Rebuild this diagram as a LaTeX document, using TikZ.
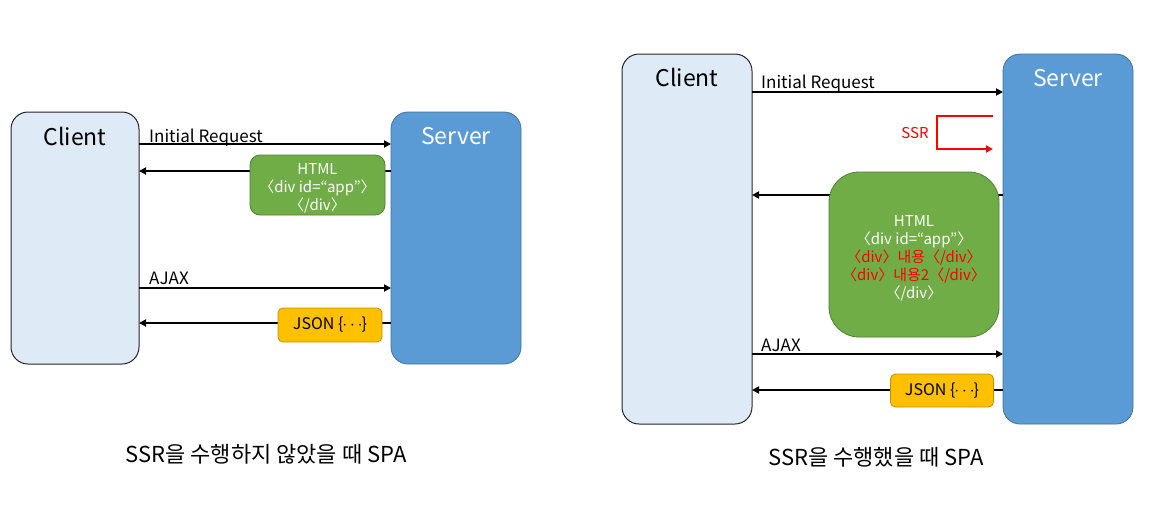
\documentclass[tikz,border=0pt]{standalone}
\usepackage{fontspec}
\setmainfont{Noto Sans CJK KR}
\usetikzlibrary{arrows.meta,positioning,calc}
\definecolor{clientfill}{HTML}{DEEBF7}
\definecolor{serverfill}{HTML}{5B9BD5}
\definecolor{serverline}{HTML}{41719C}
\definecolor{htmlfill}{HTML}{70AD47}
\definecolor{htmlline}{HTML}{507E32}
\definecolor{jsonfill}{HTML}{FFC000}
\definecolor{jsonline}{HTML}{BF9000}
\definecolor{ssrred}{HTML}{FF0000}
\tikzset{
  clientbox/.style={rectangle,rounded corners=17pt,draw=black!85,line width=1pt,fill=clientfill,inner sep=0pt,outer sep=0pt},
  serverbox/.style={rectangle,rounded corners=17pt,draw=serverline,line width=0.8pt,fill=serverfill,inner sep=0pt,outer sep=0pt},
  htmlbox/.style={rectangle,draw=htmlline,line width=0.8pt,fill=htmlfill,text=white,align=center,inner sep=0pt,font=\fontsize{15}{18}\selectfont},
  jsonbox/.style={rectangle,rounded corners=5pt,draw=jsonline,line width=0.8pt,fill=jsonfill,inner sep=0pt,font=\fontsize{16}{18}\selectfont},
  hosttext/.style={anchor=base,inner sep=0pt,font=\fontsize{23}{26}\selectfont},
  msgtext/.style={anchor=base west,inner sep=0pt,font=\fontsize{17}{20}\selectfont},
  caption/.style={inner sep=0pt,font=\fontsize{22}{24}\selectfont},
  arrow/.style={-{Triangle[length=7pt,width=7pt]},line width=2pt,black},
  ssrline/.style={-{Triangle[length=7pt,width=7pt]},line width=2pt,ssrred}
}
\newcommand{\jsondots}{\{\kern-1pt$\cdots$\kern-1pt\}}
\begin{document}
\begin{tikzpicture}[x=1pt,y=-1pt]
    \useasboundingbox (0,0) rectangle (1152,515);

    % without SSR
    \node[clientbox,minimum width=128pt,minimum height=252pt] (lcli) at (75,238) {};
    \node[serverbox,minimum width=130pt,minimum height=252pt] (lsrv) at (456,238) {};
    \node[hosttext] (lclit) at (75,145) {Client};
    \node[hosttext,text=white] (lsrvt) at (456,144) {Server};

    \draw[arrow] ([yshift=-32pt]lcli.north east) -- ([yshift=-32pt]lsrv.north west);
    \node[msgtext] (lreq) at (149,142) {Initial Request};
    \draw[arrow] ([yshift=-59pt]lsrv.north west) -- ([yshift=-59pt]lcli.north east);
    \node[htmlbox,rounded corners=10pt,minimum width=135pt,minimum height=60pt] (lhtml) at (317.5,185) {\rule{0pt}{17pt}HTML\\〈div id=“app”〉\\〈/div〉};
    \draw[arrow] ([yshift=-176pt]lcli.north east) -- ([yshift=-176pt]lsrv.north west);
    \node[msgtext] (lajax) at (149,284) {AJAX};
    \draw[arrow] ([yshift=-211pt]lsrv.north west) -- ([yshift=-211pt]lcli.north east);
    \node[jsonbox,minimum width=104pt,minimum height=34pt] (ljson) at (330,325) {JSON \jsondots};

    \node[caption] (lcap) at (266,454) {SSR을 수행하지 않았을 때 SPA};

    % with SSR
    \node[clientbox,minimum width=130pt,minimum height=370pt] (rcli) at (687,239) {};
    \node[serverbox,minimum width=130pt,minimum height=370pt] (rsrv) at (1068,239) {};
    \node[hosttext] (rclit) at (687,86) {Client};
    \node[hosttext,text=white] (rsrvt) at (1068,86) {Server};

    \draw[arrow] ([yshift=-38pt]rcli.north east) -- ([yshift=-38pt]rsrv.north west);
    \node[msgtext] (rreq) at (761,88) {Initial Request};
    \draw[ssrline] ([shift={(-10pt,-62pt)}]rsrv.north west) -- ++(-56pt,0pt) |- ([shift={(-10pt,-95pt)}]rsrv.north west);
    \node[anchor=base,inner sep=0pt,text=ssrred,font=\fontsize{15}{17}\selectfont] (rssr) at (915,138) {SSR};
    \draw[arrow] ([yshift=-141pt]rsrv.north west) -- ([yshift=-141pt]rcli.north east);
    \node[htmlbox,rounded corners=30pt,minimum width=170pt,minimum height=165pt] (rhtml) at (914,254.5) {\rule{0pt}{19pt}HTML\\〈div id=“app”〉\\\textcolor{ssrred}{〈div〉내용〈/div〉}\\\textcolor{ssrred}{〈div〉내용2〈/div〉}\\〈/div〉};
    \draw[arrow] ([yshift=-300pt]rcli.north east) -- ([yshift=-300pt]rsrv.north west);
    \node[msgtext] (rajax) at (761,351) {AJAX};
    \draw[arrow] ([yshift=-336pt]rsrv.north west) -- ([yshift=-336pt]rcli.north east);
    \node[jsonbox,minimum width=103pt,minimum height=33pt] (rjson) at (942,390.5) {JSON \jsondots};

    \node[caption] (rcap) at (876,457) {SSR을 수행했을 때 SPA};
\end{tikzpicture}
\end{document}
